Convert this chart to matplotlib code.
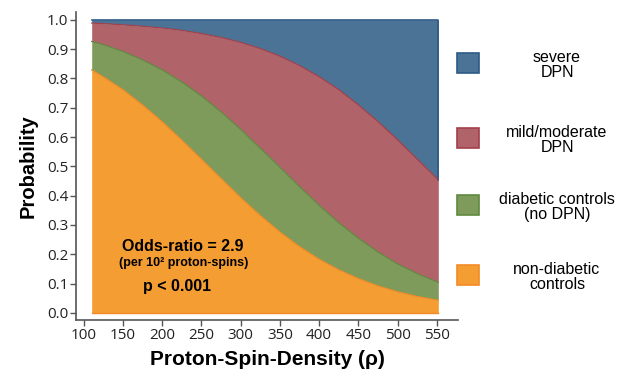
import matplotlib.pyplot as plt
from matplotlib.patches import Rectangle

# Proton-spin-density values where the curves were read
x = [110, 125, 150, 175, 200, 225, 250, 275, 300, 325, 350,
     375, 400, 425, 450, 475, 500, 525, 552]

# cumulative probabilities (top edge of each band)
cum_nondiab = [0.829, 0.805, 0.761, 0.709, 0.652, 0.589, 0.524, 0.458, 0.393, 0.332,
               0.276, 0.226, 0.183, 0.147, 0.117, 0.092, 0.072, 0.056, 0.043]
cum_diab = [0.926, 0.915, 0.892, 0.863, 0.829, 0.788, 0.740, 0.686, 0.626, 0.562,
            0.497, 0.431, 0.367, 0.308, 0.255, 0.208, 0.167, 0.134, 0.104]
cum_mild = [0.989, 0.987, 0.983, 0.978, 0.972, 0.964, 0.953, 0.940, 0.923, 0.902,
            0.876, 0.844, 0.806, 0.762, 0.710, 0.653, 0.591, 0.525, 0.454]

labels = ["severe\nDPN", "mild/moderate\nDPN", "diabetic controls\n(no DPN)",
          "non-diabetic\ncontrols"]
fills = ["#4b7396", "#b06368", "#7e9b5b", "#f49d33"]
edges = ["#2e5a86", "#a3404a", "#5f8a40", "#f38a25"]

xticks = [100, 150, 200, 250, 300, 350, 400, 450, 500, 550]
yticks = [0.0, 0.1, 0.2, 0.3, 0.4, 0.5, 0.6, 0.7, 0.8, 0.9, 1.0]

fig = plt.figure(figsize=(6.23, 3.72), dpi=100)
ax = fig.add_axes([0.122, 0.140, 0.613, 0.828])

ones = [1.0] * len(x)
zeros = [0.0] * len(x)

# stacked bands, bottom to top
ax.fill_between(x, zeros, cum_nondiab, color=fills[3], lw=0)
ax.fill_between(x, cum_nondiab, cum_diab, color=fills[2], lw=0)
ax.fill_between(x, cum_diab, cum_mild, color=fills[1], lw=0)
ax.fill_between(x, cum_mild, ones, color=fills[0], lw=0)

# outlines of the bands
ax.plot([x[0], x[-1], x[-1]], [1.0, 1.0, cum_mild[-1]], color=edges[0], lw=1.2)
ax.plot(x, cum_mild, color=edges[1], lw=0.9)
ax.plot(x, cum_diab, color=edges[2], lw=0.9)
ax.plot(x, cum_nondiab, color=edges[3], lw=0.9)
ax.plot([x[0], x[-1]], [0, 0], color=edges[3], lw=1)

ax.set_xlim(90, 577)
ax.set_ylim(-0.024, 1.027)
ax.set_xticks(xticks)
ax.set_yticks(yticks)
ax.set_yticklabels([f"{v:.1f}" for v in yticks])

for s in ["top", "right"]:
    ax.spines[s].set_visible(False)
for s in ["left", "bottom"]:
    ax.spines[s].set_color("#555555")
    ax.spines[s].set_linewidth(1.2)
ax.tick_params(direction="out", length=4, width=1, color="#555555",
               labelsize=11, labelcolor="#222222", pad=1.5)
for t in ax.get_xticklabels() + ax.get_yticklabels():
    t.set_family("Open Sans")

ax.set_xlabel("Proton-Spin-Density (\u03c1)", family="Liberation Sans",
              fontsize=15, fontweight="bold", labelpad=5)
ax.set_ylabel("Probability", family="Liberation Sans",
              fontsize=14.5, fontweight="bold", labelpad=7)

# annotation inside the orange band
ax.text(226, 0.225, "Odds-ratio = 2.9", family="Liberation Sans", fontsize=11.5,
        fontweight="bold", ha="center", va="center")
ax.text(227, 0.171, "(per 10\u00b2 proton-spins)", family="Liberation Sans",
        fontsize=9, fontweight="bold", ha="center", va="center")
ax.text(219, 0.089, "p < 0.001", family="Liberation Sans", fontsize=11.5,
        fontweight="bold", ha="center", va="center")

# legend drawn by hand on the right
W, H = 623.0, 372.0
patch_tops = [53, 128, 195, 265]
for lab, fc, ec, top in zip(labels, fills, edges, patch_tops):
    fig.patches.append(Rectangle((457 / W, 1 - (top + 20) / H), 22 / W, 20 / H,
                                 transform=fig.transFigure, facecolor=fc,
                                 edgecolor=ec, lw=1.2))
    fig.text(557 / W, 1 - (top + 12) / H, lab, family="Liberation Sans",
             fontsize=11.5, ha="center", va="center", linespacing=0.95)

fig.savefig("out.png", dpi=100)
